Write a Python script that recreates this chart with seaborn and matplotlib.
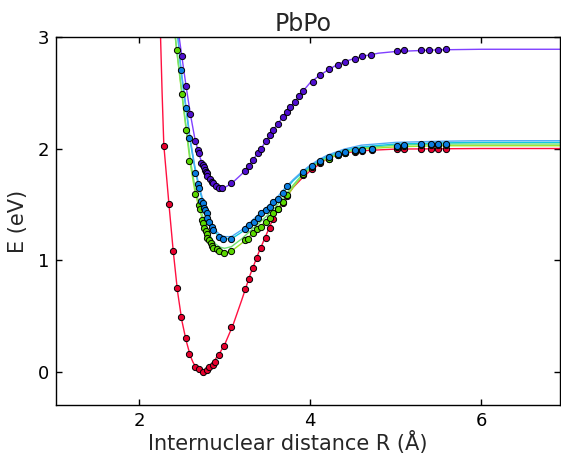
import matplotlib
matplotlib.use('Agg')
import matplotlib.pyplot as plt
import seaborn as sns
import pandas as pd

# Fitted curves (R in Angstrom, E in eV)
red_line_r = [2.25, 2.27, 2.29, 2.35, 2.40, 2.45, 2.50, 2.55, 2.60, 2.63, 2.66, 2.69, 2.72, 2.75, 2.78, 2.81,
              2.84, 2.87, 2.90, 2.95, 3.00, 3.10, 3.20, 3.30, 3.40, 3.50, 3.60, 3.70, 3.80, 3.90, 4.00, 4.20,
              4.40, 4.60, 5.00, 6.00, 7.00]
red_line_e = [3.05, 2.50, 2.03, 1.50, 1.08, 0.72, 0.46, 0.28, 0.14, 0.085, 0.045, 0.018, 0.004, 0.0, 0.006, 0.022,
              0.048, 0.08, 0.12, 0.175, 0.24, 0.42, 0.64, 0.87, 1.07, 1.25, 1.43, 1.54, 1.65, 1.73, 1.80, 1.91,
              1.96, 1.98, 1.995, 2.0, 2.0]

green_line_r = [2.42, 2.44, 2.50, 2.55, 2.60, 2.65, 2.70, 2.75, 2.80, 2.85, 2.90, 2.95, 3.00, 3.08,
                3.20, 3.30, 3.40, 3.50, 3.60, 3.70, 3.80, 3.90, 4.00, 4.10, 4.20, 4.40, 4.60, 5.00, 5.50, 6.00, 7.00]
green_line_e = [3.03, 2.88, 2.49, 2.17, 1.86, 1.63, 1.47, 1.34, 1.23, 1.15, 1.10, 1.075, 1.065, 1.08,
                1.15, 1.22, 1.29, 1.36, 1.44, 1.54, 1.65, 1.75, 1.82, 1.87, 1.91, 1.965, 1.995, 2.015, 2.025, 2.025, 2.025]
green2_line_e = [3.03, 2.89, 2.51, 2.20, 1.90, 1.67, 1.51, 1.38, 1.27, 1.19, 1.14, 1.115, 1.105, 1.12,
                 1.19, 1.26, 1.33, 1.40, 1.48, 1.57, 1.67, 1.76, 1.83, 1.88, 1.92, 1.975, 2.005, 2.03, 2.04, 2.04, 2.04]

cyan_line_r = [2.45, 2.49, 2.55, 2.60, 2.65, 2.70, 2.75, 2.80, 2.85, 2.90, 2.95, 3.00, 3.08,
               3.20, 3.30, 3.40, 3.50, 3.60, 3.70, 3.80, 3.90, 4.00, 4.10, 4.20, 4.40, 4.60, 5.00, 5.50, 6.00, 7.00]
cyan_line_e = [3.03, 2.70, 2.35, 2.06, 1.83, 1.65, 1.51, 1.39, 1.30, 1.24, 1.205, 1.19, 1.19,
               1.25, 1.32, 1.39, 1.46, 1.53, 1.62, 1.71, 1.78, 1.84, 1.89, 1.93, 1.985, 2.015, 2.04, 2.05, 2.055, 2.055]
blue_line_e = [3.05, 2.72, 2.37, 2.08, 1.85, 1.67, 1.53, 1.41, 1.32, 1.26, 1.225, 1.21, 1.21,
               1.27, 1.34, 1.41, 1.48, 1.55, 1.64, 1.72, 1.79, 1.85, 1.90, 1.94, 1.995, 2.03, 2.055, 2.065, 2.07, 2.07]

purple_line_r = [2.46, 2.50, 2.55, 2.60, 2.65, 2.70, 2.75, 2.80, 2.85, 2.90, 2.95, 3.00, 3.08, 3.20, 3.30,
                 3.40, 3.50, 3.60, 3.70, 3.80, 3.90, 4.00, 4.10, 4.20, 4.30, 4.40, 4.60, 4.80, 5.00, 5.50, 6.00, 7.00]
purple_line_e = [3.05, 2.83, 2.56, 2.31, 2.10, 1.95, 1.84, 1.76, 1.70, 1.665, 1.65, 1.65, 1.685, 1.77, 1.865,
                 1.97, 2.085, 2.20, 2.30, 2.40, 2.50, 2.59, 2.65, 2.70, 2.745, 2.78, 2.825, 2.855, 2.87, 2.885, 2.89, 2.89]

# Computed points
red_pts_r = [2.29, 2.35, 2.40, 2.44, 2.49, 2.55, 2.59, 2.66, 2.70, 2.75, 2.79, 2.82, 2.86, 2.89, 2.93, 2.99,
             3.08, 3.24, 3.28, 3.33, 3.38, 3.42, 3.48, 3.53, 3.57, 3.62, 3.68, 3.73, 3.92, 4.02, 4.12, 4.22,
             4.32, 4.41, 4.52, 4.61, 4.72, 5.01, 5.10, 5.30, 5.41, 5.50, 5.59]
red_pts_e = [2.02, 1.50, 1.08, 0.75, 0.49, 0.30, 0.16, 0.045, 0.02, 0.0, 0.01, 0.04, 0.06, 0.09, 0.15, 0.23,
             0.40, 0.74, 0.83, 0.93, 1.02, 1.11, 1.20, 1.29, 1.37, 1.46, 1.51, 1.57, 1.76, 1.82, 1.87, 1.91,
             1.94, 1.96, 1.97, 1.98, 1.99, 2.0, 2.0, 2.0, 2.0, 2.0, 2.0]

green_pts_r = [2.44, 2.50, 2.55, 2.59, 2.66, 2.70, 2.71, 2.74, 2.75, 2.76, 2.78, 2.79, 2.80, 2.82, 2.84, 2.85,
               2.87, 2.91, 2.94, 2.99, 3.08, 3.24, 3.27, 3.33, 3.38, 3.43, 3.48, 3.53, 3.57, 3.62, 3.68, 3.73,
               3.92, 4.02, 4.12, 4.22, 4.32, 4.41, 4.52, 4.61, 4.72, 5.01, 5.10, 5.30, 5.41, 5.50, 5.59]
green_pts_e = [2.88, 2.49, 2.17, 1.89, 1.59, 1.49, 1.46, 1.36, 1.33, 1.29, 1.26, 1.23, 1.20, 1.18, 1.15, 1.13,
               1.11, 1.10, 1.08, 1.06, 1.08, 1.18, 1.19, 1.24, 1.28, 1.30, 1.34, 1.38, 1.42, 1.46, 1.52, 1.58,
               1.77, 1.83, 1.88, 1.91, 1.94, 1.96, 1.98, 1.99, 2.0, 2.01, 2.02, 2.03, 2.03, 2.03, 2.03]

blue_pts_r = [2.49, 2.55, 2.59, 2.66, 2.69, 2.70, 2.73, 2.75, 2.76, 2.77, 2.79, 2.80, 2.82, 2.85, 2.87, 2.93,
              2.98, 3.08, 3.24, 3.28, 3.34, 3.39, 3.43, 3.48, 3.53, 3.57, 3.63, 3.68, 3.73, 3.92, 4.02, 4.12,
              4.22, 4.32, 4.41, 4.52, 4.61, 4.72, 5.01, 5.10, 5.30, 5.41, 5.50, 5.59]
blue_pts_e = [2.70, 2.36, 2.09, 1.78, 1.68, 1.65, 1.53, 1.51, 1.47, 1.45, 1.42, 1.38, 1.34, 1.30, 1.27, 1.21,
              1.19, 1.19, 1.28, 1.31, 1.34, 1.38, 1.42, 1.45, 1.48, 1.52, 1.55, 1.60, 1.66, 1.79, 1.84, 1.89,
              1.92, 1.95, 1.97, 1.99, 1.99, 2.00, 2.02, 2.03, 2.04, 2.04, 2.04, 2.04]

purple_pts_r = [2.50, 2.55, 2.60, 2.66, 2.69, 2.70, 2.73, 2.75, 2.76, 2.77, 2.78, 2.79, 2.80, 2.83, 2.85, 2.86,
                2.90, 2.93, 2.97, 3.08, 3.24, 3.28, 3.33, 3.39, 3.43, 3.48, 3.53, 3.57, 3.62, 3.68, 3.73, 3.77,
                3.82, 3.87, 3.92, 4.03, 4.12, 4.22, 4.32, 4.41, 4.52, 4.61, 4.71, 5.01, 5.10, 5.30, 5.39, 5.50, 5.59]
purple_pts_e = [2.83, 2.56, 2.31, 2.07, 1.99, 1.96, 1.87, 1.85, 1.83, 1.81, 1.79, 1.78, 1.75, 1.73, 1.70, 1.69,
                1.66, 1.65, 1.65, 1.69, 1.80, 1.84, 1.90, 1.96, 2.00, 2.07, 2.12, 2.17, 2.22, 2.28, 2.33, 2.37,
                2.42, 2.47, 2.52, 2.60, 2.66, 2.71, 2.75, 2.78, 2.80, 2.83, 2.84, 2.87, 2.88, 2.88, 2.88, 2.88, 2.89]

lines = [
    (red_line_r, red_line_e, '#ff1040'),
    (green_line_r, green_line_e, '#9ee62a'),
    (green_line_r, green2_line_e, '#70e070'),
    (cyan_line_r, cyan_line_e, '#10c8e0'),
    (cyan_line_r, blue_line_e, '#50aaf5'),
    (purple_line_r, purple_line_e, '#8040ff'),
]
points = [
    (red_pts_r, red_pts_e, '#e8002e'),
    (green_pts_r, green_pts_e, '#5ad800'),
    (blue_pts_r, blue_pts_e, '#0a7ee0'),
    (purple_pts_r, purple_pts_e, '#5010d0'),
]

sns.set_style('ticks')
plt.rcParams['font.family'] = ['DejaVu Sans']

fig = plt.figure(figsize=(5.61, 4.58), dpi=100)
ax = fig.add_axes([56 / 561, 1 - 405 / 458, 504 / 561, 368 / 458])

for r, e, c in lines:
    sns.lineplot(x=r, y=e, color=c, lw=1, sort=False, ax=ax, zorder=2)

for r, e, c in points:
    sns.scatterplot(x=r, y=e, color=c, s=20, edgecolor='black', linewidth=0.7, ax=ax, zorder=3)

ax.set_xlim(1.03, 6.92)
ax.set_ylim(-0.3, 3)
ax.set_xticks([2, 4, 6])
ax.set_yticks([0, 1, 2, 3])
ax.tick_params(direction='in', length=4, width=1, top=True, right=True, labelsize=13,
               colors='black', pad=5)
for sp in ax.spines.values():
    sp.set_visible(True)
    sp.set_color('black')
    sp.set_linewidth(1)

ax.set_title('PbPo', fontsize=17, pad=4)
ax.title.set_position((0.49, 1.0))
ax.set_xlabel('Internuclear distance R (Å)', fontsize=15)
ax.set_ylabel('E (eV)', fontsize=15)
ax.xaxis.set_label_coords(0.459, -0.07)
ax.yaxis.set_label_coords(-0.055, 0.5)

fig.savefig('out.png', dpi=100)
